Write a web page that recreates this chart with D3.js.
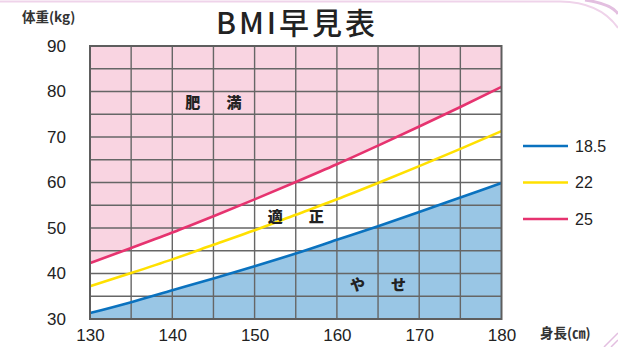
<!DOCTYPE html>
<html>
<head>
<meta charset="utf-8">
<script src="https://cdn.jsdelivr.net/npm/d3@7"></script>
<style>
  body { margin: 0; background: #fff; }
  svg { display: block; }
  text { font-family: "Noto Sans CJK JP", "Noto Sans", sans-serif; }
</style>
</head>
<body>
<div id="chart"></div>
<script>
// heights (cm) where values were read
const heights = [130, 135, 140, 145, 150, 155, 160, 165, 170, 175, 180]
// weight (kg) for each BMI line
const bmi185 = [31.3, 33.7, 36.3, 38.9, 41.6, 44.4, 47.4, 50.4, 53.5, 56.7, 59.9]
const bmi22 = [37.2, 40.1, 43.1, 46.3, 49.5, 52.9, 56.3, 59.9, 63.6, 67.4, 71.3]
const bmi25 = [42.3, 45.6, 49.0, 52.6, 56.3, 60.1, 64.0, 68.1, 72.3, 76.6, 81.0]
const seriesNames = ["18.5", "22", "25"]
const xTicks = [130, 140, 150, 160, 170, 180]
const yTicks = [30, 40, 50, 60, 70, 80, 90]
const regionLabels = [
  { chars: ["肥", "満"], x: [142.5, 147.5], y: 77.5 },
  { chars: ["適", "正"], x: [152.5, 157.5], y: 52.5 },
  { chars: ["や", "せ"], x: [162.5, 167.5], y: 37.5 }
]

const width = 618, height = 347
const margin = { left: 90, right: 116.5, top: 46, bottom: 28 }
const colors = ["#0a72bf", "#ffe000", "#e6336f"]

const svg = d3.select("#chart").append("svg")
  .attr("width", width)
  .attr("height", height)

const x = d3.scaleLinear().domain([130, 180]).range([margin.left, width - margin.right])
const y = d3.scaleLinear().domain([30, 90]).range([height - margin.bottom, margin.top])

// decorative frame
svg.append("path")
  .attr("d", "M0,1.5 L560,1.5 Q600,2 618,28")
  .attr("fill", "none").attr("stroke", "#efd3ea").attr("stroke-width", 2)
svg.append("path")
  .attr("d", "M585,0 Q612,4 618,14")
  .attr("fill", "none").attr("stroke", "#e3bfe0").attr("stroke-width", 3)
svg.append("path")
  .attr("d", "M604,347 L618,333 M611,347 L618,340")
  .attr("fill", "none").attr("stroke", "#e3bfe0").attr("stroke-width", 1.5)

const plot = svg.append("g")

// pink background (obesity) over whole plot
plot.append("rect")
  .attr("x", x(130)).attr("y", y(90))
  .attr("width", x(180) - x(130)).attr("height", y(30) - y(90))
  .attr("fill", "#f9d4e1")

// white band between 18.5 and 25
const band = d3.area()
  .x((d, i) => x(heights[i]))
  .y0((d, i) => y(bmi185[i]))
  .y1((d, i) => y(bmi25[i]))
  .curve(d3.curveMonotoneX)
plot.append("path").datum(heights).attr("d", band).attr("fill", "#fff")

// blue area under 18.5
const under = d3.area()
  .x((d, i) => x(heights[i]))
  .y0(y(30))
  .y1((d, i) => y(bmi185[i]))
  .curve(d3.curveMonotoneX)
plot.append("path").datum(heights).attr("d", under).attr("fill", "#99c6e5")

// grid
const grid = plot.append("g").attr("stroke", "#666").attr("stroke-width", 1.4)
d3.range(135, 180, 5).forEach(v => {
  grid.append("line").attr("x1", x(v)).attr("x2", x(v)).attr("y1", y(30)).attr("y2", y(90))
})
d3.range(35, 90, 5).forEach(v => {
  grid.append("line").attr("x1", x(130)).attr("x2", x(180)).attr("y1", y(v)).attr("y2", y(v))
})

// BMI lines
const lines = [bmi185, bmi22, bmi25]
lines.forEach((vals, k) => {
  const line = d3.line()
    .x((d, i) => x(heights[i]))
    .y(d => y(d))
    .curve(d3.curveMonotoneX)
  plot.append("path").datum(vals)
    .attr("d", line)
    .attr("fill", "none")
    .attr("stroke", colors[k])
    .attr("stroke-width", 2.6)
})

// frame
plot.append("rect")
  .attr("x", x(130)).attr("y", y(90))
  .attr("width", x(180) - x(130)).attr("height", y(30) - y(90))
  .attr("fill", "none").attr("stroke", "#5e5e5e").attr("stroke-width", 2)

// region labels
regionLabels.forEach(r => {
  r.chars.forEach((c, i) => {
    plot.append("text")
      .attr("x", x(r.x[i])).attr("y", y(r.y))
      .attr("dy", "0.36em")
      .attr("text-anchor", "middle")
      .attr("font-size", 15).attr("font-weight", 900)
      .attr("fill", "#222")
      .text(c)
  })
})

// axes
const xAxis = svg.append("g")
  .attr("transform", `translate(0,${y(30)})`)
  .call(d3.axisBottom(x).tickValues(xTicks).tickSize(0).tickPadding(10))
xAxis.select(".domain").remove()
xAxis.selectAll("text").attr("font-size", 17).attr("fill", "#222")
  .style("font-family", "'Liberation Sans', Arial, sans-serif")

const yAxis = svg.append("g")
  .attr("transform", `translate(${x(130)},0)`)
  .call(d3.axisLeft(y).tickValues(yTicks).tickSize(0).tickPadding(24))
yAxis.select(".domain").remove()
yAxis.selectAll("text").attr("font-size", 17).attr("fill", "#222")
  .style("font-family", "'Liberation Sans', Arial, sans-serif")

// axis titles
svg.append("text")
  .attr("x", 22).attr("y", 22)
  .attr("font-size", 13.5).attr("font-weight", "bold").attr("fill", "#333")
  .text("体重(kg)")
svg.append("text")
  .attr("x", 540).attr("y", 338)
  .attr("font-size", 13.5).attr("font-weight", "bold").attr("fill", "#333")
  .text("身長(㎝)")

// title
svg.append("text")
  .attr("x", 297).attr("y", 34)
  .attr("text-anchor", "middle")
  .attr("font-size", 30).attr("font-weight", "500").attr("fill", "#222")
  .attr("letter-spacing", 3)
  .text("BMI早見表")

// legend
const legend = svg.append("g")
seriesNames.forEach((name, k) => {
  const ly = 146 + k * 36.5
  legend.append("line")
    .attr("x1", 523).attr("x2", 568).attr("y1", ly).attr("y2", ly)
    .attr("stroke", colors[k]).attr("stroke-width", 2.6)
  legend.append("text")
    .attr("x", 575).attr("y", ly).attr("dy", "0.36em")
    .attr("font-size", 16).attr("fill", "#222")
    .style("font-family", "'Liberation Sans', Arial, sans-serif")
    .text(name)
})
</script>
</body>
</html>
